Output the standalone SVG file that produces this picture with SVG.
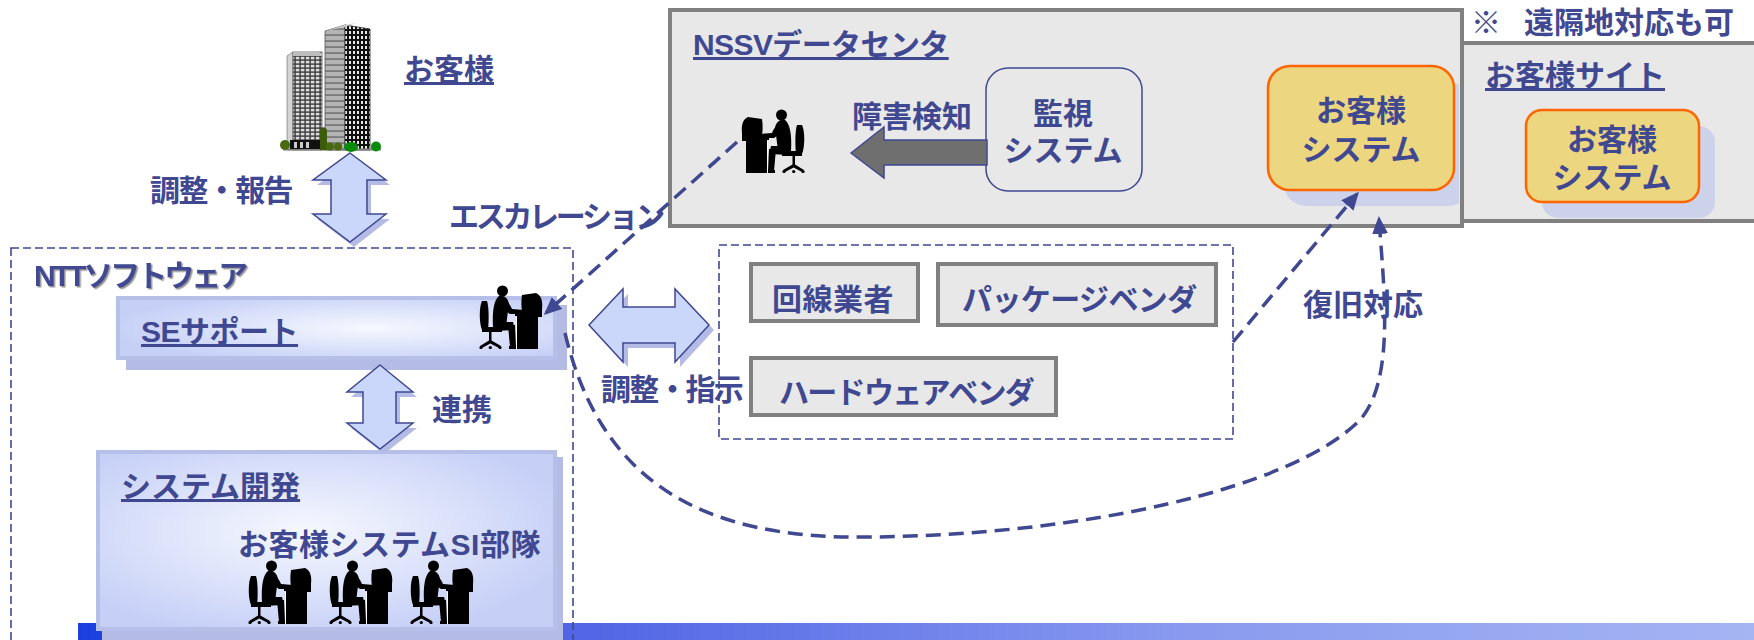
<svg xmlns="http://www.w3.org/2000/svg" xmlns:xlink="http://www.w3.org/1999/xlink" width="1754" height="640" viewBox="0 0 1754 640">
  <style>
    .t { font-family: "Liberation Sans", "Noto Sans CJK JP", sans-serif; font-weight: bold; fill: #3f4891; font-size: 30px; }
    .u { text-decoration: underline; }
    .mid { text-anchor: middle; }
    .thin-dash { fill: none; stroke: #3f4891; stroke-width: 1.6; stroke-dasharray: 8 4; }
    .flow { fill: none; stroke: #3f4891; stroke-width: 3.5; stroke-dasharray: 15 8; }
    .gbox { fill: #e8e8e8; stroke: #808080; stroke-width: 4; }
    .cust { fill: #ecd67f; stroke: #ff6600; stroke-width: 2.5; }
    .shade { fill: #ccd2ea; }
    .lav { fill: #b4bce6; }
    .barrow { fill: #cbd7fa; stroke: #3f4891; stroke-width: 1.5; stroke-linejoin: miter; }
  </style>
  <defs>
    <linearGradient id="barFill" x1="0" y1="0" x2="1" y2="0">
      <stop offset="0" stop-color="#1a40e0"/>
      <stop offset="0.29" stop-color="#5064e5"/>
      <stop offset="0.67" stop-color="#8a9bef"/>
      <stop offset="1" stop-color="#a3b5f3"/>
    </linearGradient>
    <radialGradient id="seFill" cx="0.58" cy="0.5" r="0.6">
      <stop offset="0" stop-color="#f6f8fe"/>
      <stop offset="1" stop-color="#c6d0f7"/>
    </radialGradient>
    <radialGradient id="devFill" cx="0.45" cy="0.45" r="0.6">
      <stop offset="0" stop-color="#f6f8fe"/>
      <stop offset="1" stop-color="#c6d0f7"/>
    </radialGradient>
    <pattern id="winGrid" width="5" height="4" patternUnits="userSpaceOnUse">
      <rect width="5" height="4" fill="#3a3a3a"/>
      <rect x="0.8" y="0.8" width="3.6" height="2.6" fill="#dcdcdc"/>
    </pattern>
    <pattern id="winDark" width="4" height="5" patternUnits="userSpaceOnUse">
      <rect width="4" height="5" fill="#111"/>
      <rect x="1" y="1" width="2" height="3" fill="#e8e8e8"/>
    </pattern>
    <pattern id="floorLines" width="20" height="6" patternUnits="userSpaceOnUse">
      <rect width="20" height="6" fill="#b4b4b4"/>
      <rect y="4.5" width="20" height="1.1" fill="#555"/>
    </pattern>
    <filter id="emboss" x="-5%" y="-20%" width="110%" height="150%">
      <feDropShadow dx="1.5" dy="1.5" stdDeviation="0.6" flood-color="#8a8a8a" flood-opacity="0.9"/>
    </filter>
    <clipPath id="nssvInner">
      <rect x="672" y="12" width="787" height="212"/>
    </clipPath>
    <marker id="head" markerUnits="userSpaceOnUse" viewBox="0 0 18 16" markerWidth="18" markerHeight="16" refX="15" refY="8" orient="auto">
      <path d="M0,0 L18,8 L0,16 Z" fill="#3f4891"/>
    </marker>
    <!-- seated operator at a desk, facing right -->
    <symbol id="worker" viewBox="0 0 64 64">
      <g fill="#000">
        <path d="M3,16 C0,22 0,38 3,45 L9,45 C10,36 10,22 8,16 Z"/>
        <rect x="3" y="42" width="20" height="5"/>
        <rect x="10" y="47" width="2.5" height="10"/>
        <path d="M1,61 L10,55.5 L12.5,55.5 L22,61 L20,63 L11.3,58.5 L3,63 Z"/>
        <circle cx="2" cy="62.5" r="1.6"/>
        <circle cx="11.3" cy="62.5" r="1.6"/>
        <circle cx="21" cy="62.5" r="1.6"/>
        <circle cx="23.5" cy="6" r="5.5"/>
        <path d="M20,11 C15,15 13,26 14,42 L27,42 C28,34 29,25 30,19 C29,13 25,10 20,11 Z"/>
        <path d="M22,15 C27,14 31,19 33,24 L45,25 L45,29 L31,29 C27,27 24,22 22,19 Z"/>
        <path d="M14,37 L34,37 L36,45 L15,46 Z"/>
        <path d="M29,40 L36,40 L37,62 L31,62 Z"/>
        <path d="M30,61 L39,61 L39,64 L30,64 Z"/>
        <rect x="38" y="31" width="21" height="33"/>
        <rect x="36" y="28" width="14" height="3"/>
        <path d="M43,10 L57,8 C62,10 64,16 63,24 L63,32 L44,32 C42,24 42,16 43,10 Z"/>
      </g>
      <rect x="37" y="32" width="1" height="32" fill="#fff"/>
    </symbol>
  </defs>

  <!-- footer band -->
  <rect id="footer-bar" x="78" y="623" width="1676" height="17" fill="url(#barFill)"/>

  <!-- NTT Software organisation -->
  <g id="ntt-software">
    <rect x="11" y="248" width="562" height="420" class="thin-dash"/>
    <text class="t" x="34" y="286" font-size="28" letter-spacing="-3" filter="url(#emboss)">NTTソフトウェア</text>
  </g>

  <g id="se-support">
    <rect x="126" y="305" width="441" height="65" class="lav"/>
    <rect x="118" y="298" width="437" height="60" fill="url(#seFill)" stroke="#b6bfe8" stroke-width="4"/>
    <text class="t u" x="141" y="342" letter-spacing="-0.5">SEサポート</text>
    <use href="#worker" x="479" y="285" width="64" height="64"/>
  </g>

  <g id="system-dev">
    <rect x="102" y="457" width="461" height="190" class="lav"/>
    <rect x="98" y="452" width="457" height="177" fill="url(#devFill)" stroke="#b6bfe8" stroke-width="4"/>
    <text class="t u" x="121" y="497">システム開発</text>
    <text class="t" x="238" y="555" letter-spacing="0.5">お客様システムSI部隊</text>
    <use href="#worker" x="248" y="560" width="64" height="64"/>
    <use href="#worker" x="329" y="560" width="64" height="64"/>
    <use href="#worker" x="410" y="560" width="64" height="64"/>
  </g>

  <!-- customer (office towers) -->
  <g id="customer">
    <polygon points="287,56 293,52 293,150 287,150" fill="#d4d4d4" stroke="#666" stroke-width="0.6"/>
    <rect x="293" y="52" width="29" height="98" fill="url(#winGrid)" stroke="#555" stroke-width="0.8"/>
    <polygon points="293,52 316,51 322,53 322,56 293,56" fill="#bdbdbd"/>
    <polygon points="325,31 345,25 345,150 325,150" fill="url(#floorLines)" stroke="#555" stroke-width="0.8"/>
    <polygon points="345,25 370,29 370,150 345,150" fill="url(#winDark)" stroke="#222" stroke-width="0.8"/>
    <polygon points="325,31 345,25 356,23 345,27" fill="#cfcfcf"/>
    <rect x="283" y="148.5" width="98" height="2" fill="#808080"/>
    <rect x="290" y="140" width="30" height="9" fill="#111"/>
    <rect x="294" y="142" width="3" height="6" fill="#ccc"/>
    <rect x="300" y="142" width="3" height="6" fill="#ccc"/>
    <rect x="306" y="142" width="3" height="6" fill="#ccc"/>
    <ellipse cx="285" cy="145" rx="5" ry="5" fill="#4a6a10"/>
    <path d="M320,150 L320,131 C320,126 327,126 327,131 L327,150 Z" fill="#3d5c0a"/>
    <circle cx="330" cy="146.5" r="4" fill="#4a6a10"/>
    <circle cx="338" cy="146.5" r="4" fill="#4a6a10"/>
    <ellipse cx="351" cy="147" rx="7" ry="5" fill="#0a8a0a"/>
    <circle cx="376" cy="146.5" r="5" fill="#0a8a0a"/>
    <text class="t u" x="404" y="80" font-size="31">お客様</text>
  </g>

  <!-- two-way arrows -->
  <g id="arrow-customer-ntt">
    <polygon class="lav" transform="translate(4,5)" points="350,153 386,180 367,180 367,214 386,214 350,242 313,214 331,214 331,180 313,180"/>
    <polygon class="barrow" points="350,153 386,180 367,180 367,214 386,214 350,242 313,214 331,214 331,180 313,180"/>
    <text class="t" x="150" y="201" font-size="29" letter-spacing="-1.6">調整・報告</text>
  </g>

  <g id="arrow-se-dev">
    <polygon class="lav" transform="translate(4,5)" points="380,365 413,392 396,392 396,423 413,423 380,449 347,423 363,423 363,392 347,392"/>
    <polygon class="barrow" points="380,365 413,392 396,392 396,423 413,423 380,449 347,423 363,423 363,392 347,392"/>
    <text class="t" x="432" y="420" font-size="31">連携</text>
  </g>

  <g id="arrow-se-vendors">
    <polygon class="lav" transform="translate(5,5)" points="589,325 623,289 623,307 675,307 675,289 709,325 675,362 675,343 623,343 623,362"/>
    <polygon class="barrow" points="589,325 623,289 623,307 675,307 675,289 709,325 675,362 675,343 623,343 623,362"/>
    <text class="t" x="601" y="400" font-size="29" letter-spacing="-1.8">調整・指示</text>
  </g>

  <!-- NSSV data centre -->
  <g id="nssv-datacenter">
    <rect x="670" y="10" width="792" height="216" class="gbox"/>
    <text class="t u" x="693" y="55" font-size="29" letter-spacing="-0.6">NSSVデータセンタ</text>
  </g>

  <g id="nssv-operator">
    <use href="#worker" width="64" height="64" transform="translate(805,109) scale(-1,1)"/>
  </g>

  <g id="monitoring-system">
    <rect x="986" y="68" width="156" height="123" rx="22" fill="#e8e8e8" stroke="#3f4891" stroke-width="1.5"/>
    <polygon points="851,153 884,127 884,140 987,140 987,165 884,165 884,178" fill="#6f6f6f" stroke="#3f4891" stroke-width="1.5"/>
    <text class="t" x="852" y="127" font-size="31">障害検知</text>
    <text class="t mid" x="1063" y="124" font-size="31">監視</text>
    <text class="t mid" x="1063" y="161" font-size="29">システム</text>
  </g>

  <g id="customer-system-dc">
    <rect x="1284" y="82" width="186" height="124" rx="22" class="shade" clip-path="url(#nssvInner)"/>
    <rect x="1268" y="66" width="186" height="124" rx="22" class="cust"/>
    <text class="t mid" x="1361" y="121" font-size="30">お客様</text>
    <text class="t mid" x="1361" y="160" font-size="29">システム</text>
  </g>

  <!-- remote customer site -->
  <g id="customer-site">
    <rect x="1462" y="43" width="300" height="178" class="gbox"/>
    <text class="t" x="1471" y="33">※</text>
    <text class="t" x="1524" y="33">遠隔地対応も可</text>
    <text class="t u" x="1485" y="86" font-size="29">お客様サイト</text>
    <rect x="1542" y="126" width="173" height="92" rx="16" class="shade"/>
    <rect x="1526" y="110" width="173" height="92" rx="16" class="cust"/>
    <text class="t mid" x="1612" y="150" font-size="30">お客様</text>
    <text class="t mid" x="1612" y="188" font-size="29">システム</text>
  </g>

  <!-- vendors -->
  <g id="vendors">
    <rect x="719" y="245" width="514" height="194" class="thin-dash"/>
  </g>
  <g id="vendor-line">
    <rect x="751" y="264" width="167" height="57" class="gbox"/>
    <text class="t" x="772" y="310" letter-spacing="0.5">回線業者</text>
  </g>
  <g id="vendor-package">
    <rect x="938" y="264" width="278" height="61" class="gbox"/>
    <text class="t" x="962" y="310" font-size="29" letter-spacing="-0.6">パッケージベンダ</text>
  </g>
  <g id="vendor-hardware">
    <rect x="751" y="358" width="305" height="57" class="gbox"/>
    <text class="t" x="779" y="403" font-size="28" letter-spacing="-1.7">ハードウェアベンダ</text>
  </g>

  <!-- connectors -->
  <g id="connectors">
    <path class="flow" d="M737,142 L546,313" marker-end="url(#head)"/>
    <text class="t" x="449" y="227" font-size="27" letter-spacing="-3.3">エスカレーション</text>
    <path class="flow" d="M1233,342 L1357,194" marker-end="url(#head)"/>
    <path class="flow" d="M565,333 C600,480 700,540 870,537 C1080,535 1290,490 1360,420 C1395,380 1384,290 1379,219" marker-end="url(#head)"/>
    <text class="t" x="1303" y="315" font-size="31">復旧対応</text>
  </g>
</svg>
